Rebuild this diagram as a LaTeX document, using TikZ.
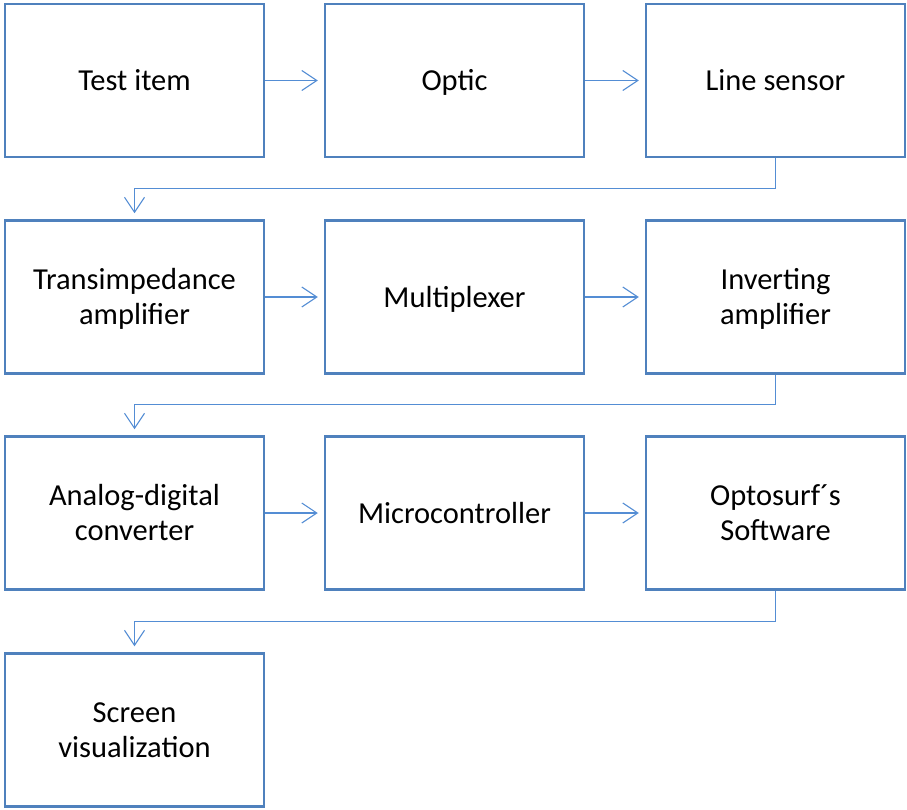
\documentclass[tikz,border=0pt]{standalone}
\usepackage{fontspec}
\setmainfont{Carlito}
\usetikzlibrary{arrows.meta}
\definecolor{boxblue}{RGB}{79,129,189}
\definecolor{linkblue}{RGB}{84,141,212}
\newcommand\lnS{\rule[-7.5pt]{0pt}{35pt}}
\begin{document}
\begin{tikzpicture}[x=1pt,y=1pt,
  blk/.style={draw=boxblue, line width=2.5pt, fill=white, minimum width=259pt, minimum height=153pt,
    inner sep=0pt, align=center, font=\fontsize{30.5}{35}\selectfont, text=black},
  link/.style={draw=linkblue, line width=1.1pt, -{Straight Barb[length=15pt,width=20pt,line width=1.1pt]}, shorten >=6pt}]
\useasboundingbox (0,0) rectangle (907,-810);
\node[blk] (a1) at (134.5,-80.5) {\lnS Test item};
\node[blk] (a2) at (454.5,-80.5) {\lnS Optic};
\node[blk] (a3) at (775.5,-80.5) {\lnS Line sensor};
\node[blk] (b1) at (134.5,-297) {\lnS Transimpedance\\\lnS amplifier};
\node[blk] (b2) at (454.5,-297) {\lnS Multiplexer};
\node[blk] (b3) at (775.5,-297) {\lnS Inverting\\\lnS amplifier};
\node[blk] (c1) at (134.5,-513) {\lnS Analog-digital\\\lnS converter};
\node[blk] (c2) at (454.5,-513) {\lnS Microcontroller};
\node[blk] (c3) at (775.5,-513) {\lnS Optosurf´s\\\lnS Software};
\node[blk] (d1) at (134.5,-730) {\lnS Screen\\\lnS visualization};
\draw[link] (a1) -- (a2);
\draw[link] (a2) -- (a3);
\draw[link] (b1) -- (b2);
\draw[link] (b2) -- (b3);
\draw[link] (c1) -- (c2);
\draw[link] (c2) -- (c3);
\draw[link] (a3.south) -- ++(0,-30.5) -| (b1.north);
\draw[link] (b3.south) -- ++(0,-30) -| (c1.north);
\draw[link] (c3.south) -- ++(0,-30.5) -| (d1.north);
\end{tikzpicture}
\end{document}
